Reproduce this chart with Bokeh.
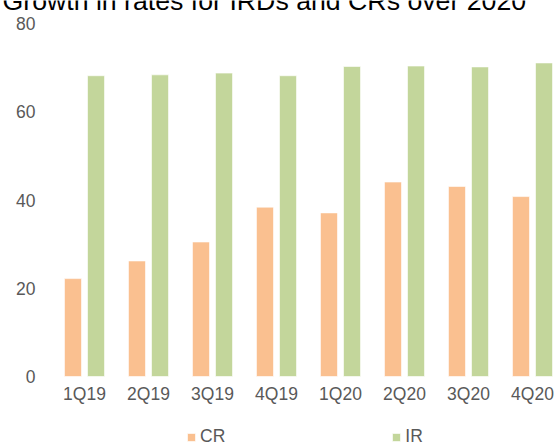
from bokeh.plotting import figure
from bokeh.models import (Range1d, FixedTicker, Label, Legend, LegendItem,
                          ColumnDataSource)
from bokeh.transform import dodge
from bokeh.embed import file_html
from bokeh.resources import INLINE

# ---- data ----
categories = ["1Q19", "2Q19", "3Q19", "4Q19", "1Q20", "2Q20", "3Q20", "4Q20"]
cr_values = [22.2, 26.2, 30.5, 38.4, 37.1, 44.1, 43.1, 40.8]
ir_values = [68.2, 68.4, 68.8, 68.2, 70.3, 70.4, 70.2, 71.1]
y_ticks = [0, 20, 40, 60, 80]
title_text = "Growth in rates for IRDs and CRs over 2020"

CR_COLOR = "#FAC090"
IR_COLOR = "#C3D69B"
TXT = "#595959"
FONT = "Liberation Sans"

xs = list(range(len(categories)))
src = ColumnDataSource(dict(x=xs, cr=cr_values, ir=ir_values))

W, H = 556, 443
axis_left_px = 52      # where category -0.5 sits
zero_px = 376          # where value 0 sits
px_per_unit = 4.41
px_per_cat = 64.0

x0 = -0.5 - axis_left_px / px_per_cat
y1 = zero_px / px_per_unit
y0 = -(H - zero_px) / px_per_unit

p = figure(width=W, height=H, output_backend="svg", toolbar_location=None,
           x_range=Range1d(x0, x0 + W / px_per_cat),
           y_range=Range1d(y0, y1),
           min_border_left=0, min_border_right=0, min_border_top=0,
           min_border_bottom=0)
p.outline_line_color = None
p.xgrid.visible = False
p.ygrid.visible = False
p.background_fill_color = "white"
p.border_fill_color = "white"

r_cr = p.vbar(x=dodge("x", -0.18, range=p.x_range), top="cr", width=0.266,
              source=src, fill_color=CR_COLOR, line_color="white",
              line_alpha=0.6, line_width=1)
r_ir = p.vbar(x=dodge("x", 0.18, range=p.x_range), top="ir", width=0.266,
              source=src, fill_color=IR_COLOR, line_color="white",
              line_alpha=0.6, line_width=1)

# axes, fixed inside the frame
p.xaxis.ticker = FixedTicker(ticks=xs)
p.xaxis.major_label_overrides = {i: c for i, c in enumerate(categories)}
p.xaxis.fixed_location = 0
p.yaxis.ticker = FixedTicker(ticks=y_ticks)
p.yaxis.fixed_location = -0.5
for ax in (p.xaxis[0], p.yaxis[0]):
    ax.axis_line_color = None
    ax.major_tick_line_color = None
    ax.minor_tick_line_color = None
    ax.major_tick_out = 0
    ax.major_tick_in = 0
    ax.major_label_text_font = FONT
    ax.major_label_text_font_size = "17.5px"
    ax.major_label_text_color = TXT
p.xaxis.major_label_standoff = 7
p.yaxis.major_label_standoff = 17

# title (partly cut off at top like the reference)
p.add_layout(Label(x=x0 + 2 / px_per_cat,
                   y=y1,
                   text=title_text, text_font=FONT, text_font_size="26.7px",
                   text_color="black", text_baseline="alphabetic",
                   text_align="left"))

legend = Legend(items=[LegendItem(label="CR", renderers=[r_cr]),
                       LegendItem(label="IR", renderers=[r_ir])],
                orientation="horizontal", location=(186, -4),
                glyph_width=10, glyph_height=10, label_standoff=4,
                spacing=166, padding=0, margin=0,
                border_line_color=None, background_fill_alpha=0,
                label_text_font=FONT, label_text_font_size="17.5px",
                label_text_color=TXT)
p.add_layout(legend)

open("out.html", "w").write(file_html(p, INLINE))
